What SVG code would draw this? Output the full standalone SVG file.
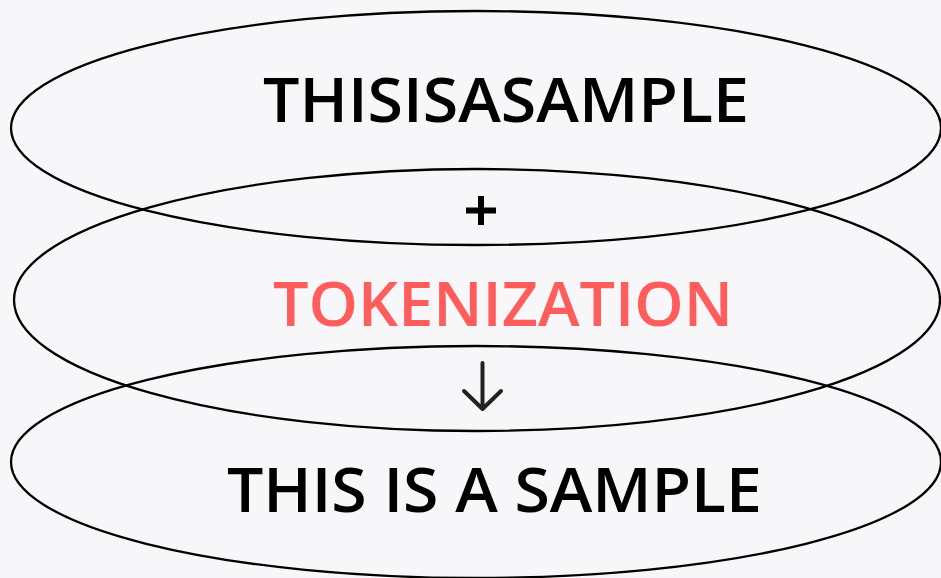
<svg xmlns="http://www.w3.org/2000/svg" width="941" height="578" viewBox="0 0 941 578">
<style>
.ell{fill:none;stroke:#000;stroke-width:2.3}
.t{font-family:"Open Sans","Liberation Sans",sans-serif;font-size:62px;font-weight:600;text-anchor:start}
</style>
<rect width="941" height="578" fill="#F7F7F9"/>
<g id="top">
<ellipse class="ell" cx="476" cy="128" rx="465" ry="117"/>
<text class="t" x="263" y="122" fill="#000" textLength="486" lengthAdjust="spacingAndGlyphs">THISISASAMPLE</text>
</g>
<g id="middle">
<ellipse class="ell" cx="477" cy="300" rx="463" ry="131"/>
<text class="t" x="273" y="326" fill="#FF5C5C" font-weight="500" textLength="460" lengthAdjust="spacingAndGlyphs">TOKENIZATION</text>
</g>
<g id="bottom">
<ellipse class="ell" cx="476" cy="462" rx="465" ry="116"/>
<text class="t" x="227" y="512" fill="#000" textLength="535" lengthAdjust="spacingAndGlyphs">THIS IS A SAMPLE</text>
</g>
<g id="connectors">
<path d="M481 196V225M466 210.5H496" stroke="#000" stroke-width="6" fill="none"/>
<path d="M482.5 363V409M464 391L482.5 409L501 391" stroke="#222" stroke-width="4" fill="none" stroke-linecap="round" stroke-linejoin="round"/>
</g>
</svg>
